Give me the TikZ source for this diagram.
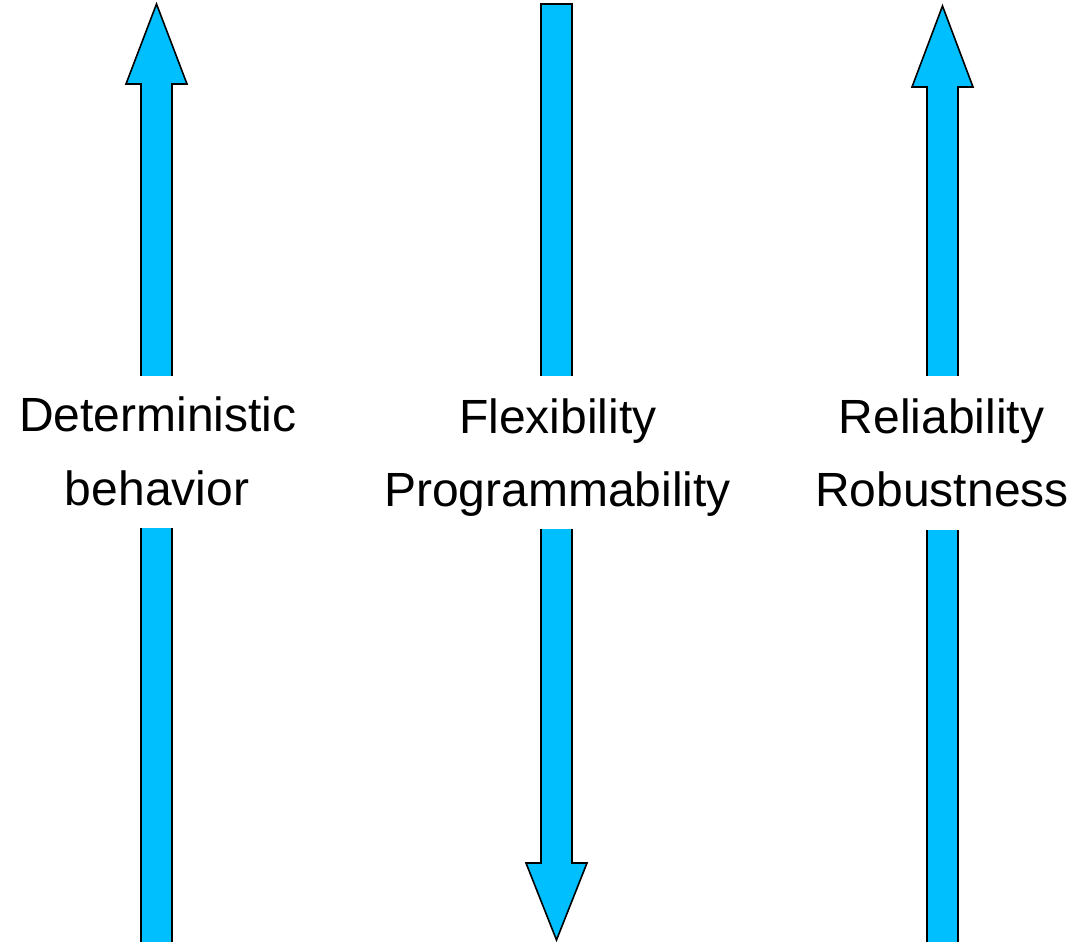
\documentclass[tikz,border=0pt]{standalone}
\usepackage{fontspec}
\setmainfont{Liberation Sans}
\definecolor{arrowblue}{RGB}{0,191,255}
\begin{document}
\begin{tikzpicture}[x=1pt,y=-1pt,
  arrowshape/.style={fill=arrowblue,draw=black,line width=1.6pt,line join=miter},
  cover/.style={fill=white,draw=none,inner sep=0pt,minimum width=60pt},
  lbl/.style={font=\fontsize{48}{58}\selectfont,inner sep=0pt,anchor=base,text=black}]
\useasboundingbox (0,0) rectangle (1088,942);
\clip (0,0) rectangle (1088,942);
% left arrow (up)
\draw[arrowshape] (141,980) -- (141,84) -- (126,84) -- (156.5,4) -- (187,84) -- (172,84) -- (172,980) -- cycle;
% middle arrow (down)
\draw[arrowshape] (541,4) -- (572,4) -- (572,863) -- (587,863) -- (556.5,940) -- (526,863) -- (541,863) -- cycle;
% right arrow (up)
\draw[arrowshape] (927,980) -- (927,87) -- (912,87) -- (942.5,6) -- (973,87) -- (958,87) -- (958,980) -- cycle;
% covers
\node[cover,minimum height=152pt] (c1) at (156.5,452) {};
\node[cover,minimum height=153pt] (c2) at (556.5,452.5) {};
\node[cover,minimum height=154pt] (c3) at (942.5,453) {};
% labels
\node[lbl] (l1a) at (158,431) {Deterministic};
\node[lbl] (l1b) at (157,505) {behavior};
\node[lbl] (l2a) at (558,433) {Flexibility};
\node[lbl] (l2b) at (557.5,506) {Programmability};
\node[lbl] (l3a) at (941.5,433) {Reliability};
\node[lbl] (l3b) at (942,506) {Robustness};
\end{tikzpicture}
\end{document}
